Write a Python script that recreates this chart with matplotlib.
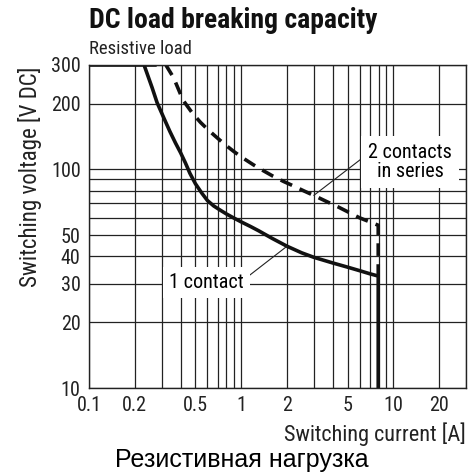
import numpy as np
import matplotlib
matplotlib.use("Agg")
import matplotlib.pyplot as plt
from matplotlib import font_manager
from matplotlib.ticker import FixedLocator, NullFormatter, LogLocator

# data
one_i = [0.1, 0.23, 0.26, 0.28, 0.31, 0.34, 0.37, 0.40, 0.43, 0.46, 0.50, 0.55, 0.60, 0.66,
         0.73, 0.80, 0.89, 1.0, 1.15, 1.3, 1.6, 2.0, 2.5, 3.0, 4.0, 5.0, 6.0, 7.0, 7.95, 7.95]
one_v = [300, 300, 236, 202, 172, 149, 132, 119, 107, 96, 86, 78, 72, 68,
         65, 62.5, 60, 57.5, 54.8, 52.4, 48.3, 44.5, 41.5, 39.6, 37.3, 35.7, 34.4, 33.3, 32.5, 10]
two_i = [0.23, 0.32, 0.36, 0.415, 0.48, 0.54, 0.61, 0.69, 0.78, 0.89, 1.0, 1.2, 1.4, 1.62,
         1.9, 2.2, 2.6, 3.0, 3.6, 4.3, 5.0, 6.0, 7.0, 7.95, 7.95]
two_v = [300, 300, 262, 207, 180, 164, 151, 140, 130, 121, 114, 105, 98.5, 93,
         88, 84, 79.5, 76, 71.5, 67.5, 64, 60, 57.5, 55.5, 32.5]

x_ticks = [0.1, 0.2, 0.5, 1, 2, 5, 10, 20]
x_labels = ["0.1", "0.2", "0.5", "1", "2", "5", "10", "20"]
y_ticks = [10, 20, 30, 40, 50, 100, 200, 300]
y_labels = ["10", "20", "30", "40", "50", "100", "200", "300"]


def pick(names):
    for n in names:
        try:
            font_manager.findfont(n, fallback_to_default=False)
            return n
        except Exception:
            pass
    return "DejaVu Sans"


narrow = pick(["Liberation Sans Narrow", "DejaVu Sans Condensed", "Roboto Condensed", "DejaVu Sans"])
plt.rcParams['font.family'] = [narrow, 'DejaVu Sans']

fig = plt.figure(figsize=(4.71, 4.75), dpi=100)
ax = fig.add_axes([89/471, 1-388/475, 377/471, 323/475])
ax.set_xscale('log')
ax.set_yscale('log')
ax.set_xlim(0.1, 30)
ax.set_ylim(10, 300)

ax.xaxis.set_major_locator(FixedLocator(x_ticks))
ax.set_xticklabels(x_labels)
ax.yaxis.set_major_locator(FixedLocator(y_ticks))
ax.set_yticklabels(y_labels)
ax.xaxis.set_minor_locator(LogLocator(base=10, subs=np.arange(2, 10)))
ax.yaxis.set_minor_locator(LogLocator(base=10, subs=np.arange(2, 10)))
ax.xaxis.set_minor_formatter(NullFormatter())
ax.yaxis.set_minor_formatter(NullFormatter())
ax.tick_params(which='both', length=0, labelsize=14.5, colors='#222222', pad=6)
ax.grid(which='both', color='#222222', lw=0.9)
for s in ax.spines.values():
    s.set_color('#222222')
    s.set_linewidth(1.0)

ax.plot(two_i, two_v, color='#111111', lw=2.6, ls=(0, (3.5, 2.3)), solid_capstyle='butt')
ax.plot(one_i, one_v, color='#111111', lw=2.6, solid_capstyle='butt')

ax.annotate("2 contacts\nin series", xy=(3.0, 76), xytext=(12.9, 108),
            fontsize=14.5, ha='center', va='center', linespacing=1.05,
            bbox=dict(boxstyle='square,pad=0.35', fc='white', ec='none'),
            arrowprops=dict(arrowstyle='-', color='#222222', lw=0.8, shrinkA=0, shrinkB=0,
                            relpos=(0.0, 0.72)))
ax.annotate("1 contact", xy=(2.0, 44.5), xytext=(0.59, 30.3),
            fontsize=14.5, ha='center', va='center',
            bbox=dict(boxstyle='square,pad=0.3', fc='white', ec='none'),
            arrowprops=dict(arrowstyle='-', color='#222222', lw=0.8, shrinkA=0, shrinkB=0,
                            relpos=(0.95, 0.5)))

fig.text(89/471, 1-20/475, "DC load breaking capacity", fontsize=20, fontweight='bold',
         ha='left', va='center', color='#111111')
fig.text(89/471, 1-49/475, "Resistive load", fontsize=13.5, ha='left', va='center', color='#222222')
fig.text(30/471, 1-177/475, "Switching voltage [V DC]", fontsize=16.5, rotation=90,
         ha='center', va='center', color='#222222')
fig.text(466/471, 1-434/475, "Switching current [A]", fontsize=16, ha='right', va='center',
         color='#222222')
fig.text(242/471, 1-460/475, "Резистивная нагрузка", fontsize=18, ha='center', va='center',
         family=['Liberation Sans', 'DejaVu Sans'], color='black')

fig.savefig("out.png", dpi=100)
